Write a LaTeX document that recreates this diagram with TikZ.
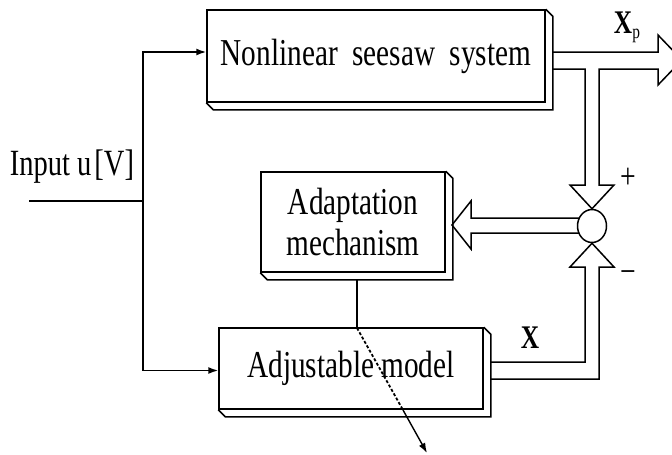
\documentclass[tikz,border=0pt]{standalone}
\usepackage{fontspec}
\setmainfont{Liberation Serif}[FakeStretch=0.77]
\usetikzlibrary{calc,shapes.geometric,arrows.meta}
% side and bottom faces of a raised block
\newcommand{\extrude}[1]{%
\draw (#1.north east) -- ++(7,7) -- ($(#1.south east)+(7,7)$) -- ($(#1.south west)+(7,7)$) -- (#1.south west);}
\begin{document}
\begin{tikzpicture}[x=1pt,y=-1pt,line width=1.5pt,line join=miter,
block/.style={rectangle,draw,inner sep=0pt,align=center,font=\fontsize{38}{41}\selectfont},
sum node/.style={ellipse,draw,minimum width=29pt,minimum height=33pt,inner sep=0pt},
sig/.style={font=\fontsize{33}{33}\selectfont\bfseries},
feed/.style={-{Latex[length=10pt,width=7pt]}}]
\useasboundingbox (0,0) rectangle (672,455);
\begin{scope}
\node[block,minimum width=338pt,minimum height=92pt] (plant) at (376,56) {Nonlinear\ \ seesaw\ \ system};
\node[block,minimum width=184pt,minimum height=100pt] (adapt) at (353,222) {Adaptation\\mechanism};
\node[block,minimum width=264pt,minimum height=81pt] (model) at (351,368.5) {Adjustable model};
\node[sum node] (sum) at (592,226) {};
%\node[block] () at (,) {};
\end{scope}
\extrude{plant}
\extrude{adapt}
\extrude{model}
\begin{scope}[every node/.style={inner sep=0pt}]
\node[font=\fontsize{37}{37}\selectfont] (input) at (72,167) {Input u\kern3pt[V]};
\node[sig] (xp) at (627,27) {X\raisebox{-5pt}{\mdseries\fontsize{20}{20}\selectfont p}};
\node[sig] (xm) at (530,338) {X};
\node[font=\fontsize{36}{36}\selectfont] (plus) at (628,178) {+};
\node[font=\fontsize{36}{36}\selectfont] (minus) at (628,277) {−};
\end{scope}
% input wiring
\coordinate (in) at (29,201);
\coordinate (split) at (143,201);
\draw (in) -- (split);
\draw[feed] (split) |- ($(plant.west)+(0,-4)$);
\draw[feed] (split) |- ($(model.west)+(0,2)$);
% wide signal paths
\draw (552,52) -- (658,52) -- (658,35) -- (682,60) -- (658,85) -- (658,69) -- (599,69) -- (599,185) -- (614,185) -- (sum.north) -- (570,185) -- (585,185) -- (585,69) -- (552,69);
\draw (490,362) -- (585,362) -- (585,267) -- (570,267) -- (sum.south) -- (614,267) -- (599,267) -- (599,379) -- (490,379);
\draw ($(sum.center)+(-12.5,-8)$) -- (471,218) -- (471,201) -- (452,225) -- (471,249) -- (471,233) -- ($(sum.center)+(-13,7)$);
% tuning of the model parameters
\coordinate (tap) at (357,279);
\coordinate (entry) at (357,328);
\coordinate (exit) at (403,410);
\coordinate (tune) at (427,453);
\draw[line width=1.2pt] (tap) -- (entry);
\draw[line width=1.8pt,dash pattern=on 3pt off 2pt] (entry) -- (exit);
\draw[line width=1.4pt,feed] (exit) -- (tune);
\end{tikzpicture}
\end{document}
